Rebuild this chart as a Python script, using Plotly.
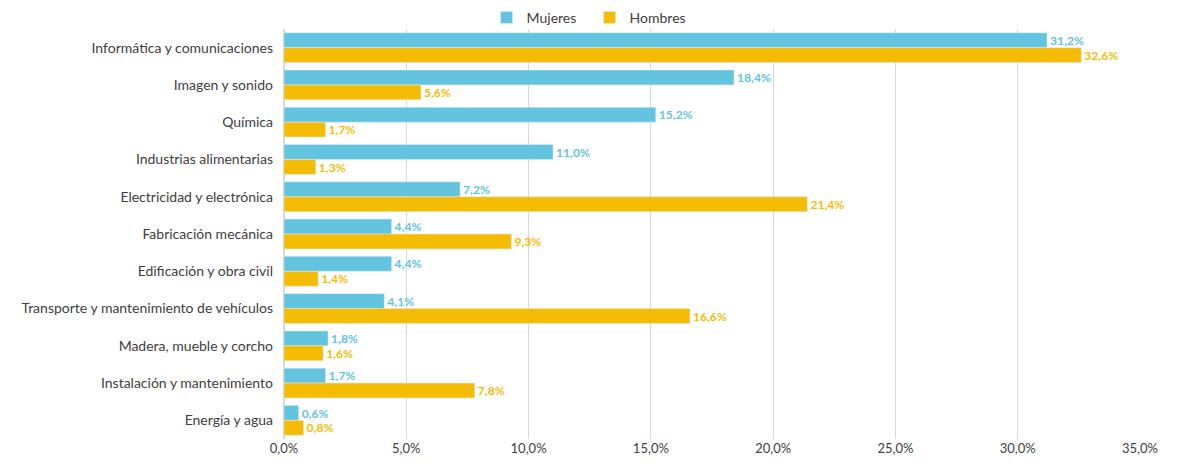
import plotly.graph_objects as go

# familias profesionales, de arriba abajo
familias = ["Informática y comunicaciones", "Imagen y sonido", "Química",
            "Industrias alimentarias", "Electricidad y electrónica",
            "Fabricación mecánica", "Edificación y obra civil",
            "Transporte y mantenimiento de vehículos",
            "Madera, mueble y corcho", "Instalación y mantenimiento",
            "Energía y agua"]
mujeres = [31.2, 18.4, 15.2, 11.0, 7.2, 4.4, 4.4, 4.1, 1.8, 1.7, 0.6]
hombres = [32.6, 5.6, 1.7, 1.3, 21.4, 9.3, 1.4, 16.6, 1.6, 7.8, 0.8]

azul = "#62C4DF"
oro = "#F5BC05"

fig = go.Figure()
fig.add_trace(go.Bar(y=familias, x=mujeres, name="Mujeres", orientation="h",
                     marker_color=azul, texttemplate="%{x:.1f}%", textposition="outside",
                     textfont=dict(color=azul, size=13, family="Lato", weight="bold"),
                     cliponaxis=False))
fig.add_trace(go.Bar(y=familias, x=hombres, name="Hombres", orientation="h",
                     marker_color=oro, texttemplate="%{x:.1f}%", textposition="outside",
                     textfont=dict(color=oro, size=13, family="Lato", weight="bold"),
                     cliponaxis=False))

# la página tiene 8px de margen en body, así que la figura es algo más pequeña
fig.update_layout(
    width=1164, height=455,
    margin=dict(l=276, r=32, t=21, b=24, autoexpand=False),
    barmode="group", bargap=0.2, bargroupgap=0,
    separators=",.",
    plot_bgcolor="white", paper_bgcolor="white",
    font=dict(family="Lato", size=14, color="#404040"),
    legend=dict(orientation="h", x=0.357, xanchor="center",
                y=0.988, yanchor="bottom", entrywidth=58,
                bgcolor="rgba(0,0,0,0)",
                font=dict(size=14), traceorder="normal"),
)
fig.update_xaxes(range=[0, 35], dtick=5, tickformat=".1f", ticksuffix="%",
                 showgrid=True, gridcolor="#D9D9D9", zeroline=True, zerolinecolor="#D9D9D9",
                 ticks="", tickfont=dict(size=13, color="#404040"), automargin=False)
fig.update_yaxes(autorange="reversed", ticks="", ticklabelstandoff=10,
                 tickfont=dict(size=14, color="#404040"), showline=False, automargin=False)

fig.write_html("out.html")
